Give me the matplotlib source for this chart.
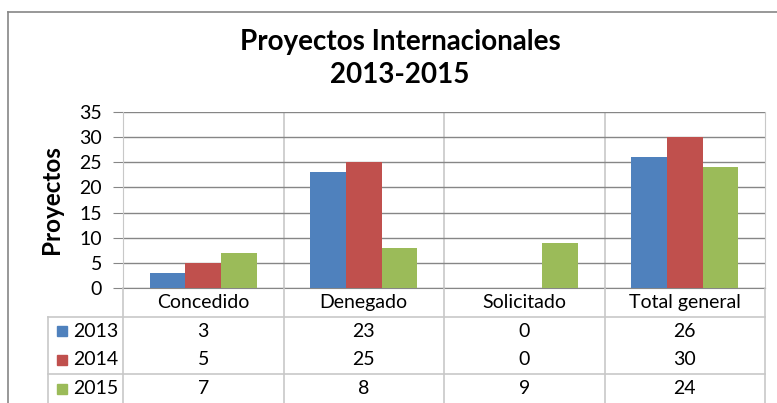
import matplotlib
matplotlib.use("Agg")
import numpy as np
import matplotlib.pyplot as plt
from matplotlib.patches import Rectangle
from matplotlib.lines import Line2D

plt.rcParams["font.family"] = ["Lato", "DejaVu Sans"]

# ---------------------------------------------------------
# Data
# ---------------------------------------------------------
categories = ["Concedido", "Denegado", "Solicitado", "Total general"]
years = ["2013", "2014", "2015"]
v2013 = [3, 23, 0, 26]
v2014 = [5, 25, 0, 30]
v2015 = [7, 8, 9, 24]
series = [v2013, v2014, v2015]
colors = ["#4F81BD", "#C0504D", "#9BBB59"]

GRID = "#868686"
SEP = "#C8C8C8"
W, H = 777, 403
FS = 14


def fx(px):
    return px / W


def fy(py):
    return 1 - py / H


fig = plt.figure(figsize=(W / 100, H / 100), dpi=100)

# outer chart border
fig.add_artist(Line2D([fx(8), fx(8)], [fy(12), 0], color=GRID, lw=1.2))
fig.add_artist(Line2D([fx(8), 1], [fy(12), fy(12)], color=GRID, lw=1.2))

fig.text(fx(400), fy(42), "Proyectos Internacionales", ha="center", va="center",
         fontsize=20, fontweight="bold")
fig.text(fx(400), fy(75), "2013-2015", ha="center", va="center",
         fontsize=20, fontweight="bold")

# ---------------------------------------------------------
# Bars
# ---------------------------------------------------------
ax = fig.add_axes([fx(123), fy(288), (765 - 123) / W, (288 - 112) / H])
x = np.arange(len(categories))
bw = 1 / 4.5
for j, (vals, c) in enumerate(zip(series, colors)):
    ax.bar(x + (j - 1) * bw, vals, width=bw, color=c, zorder=3)

ax.set_xlim(-0.5, 3.5)
ax.set_ylim(0, 35)
ax.set_yticks(range(0, 36, 5))
ax.yaxis.grid(True, color=GRID, lw=1.0, zorder=0)
ax.set_xticks([])
for xs in [0.5, 1.5, 2.5]:
    ax.axvline(xs, color=SEP, lw=1.2, zorder=1)
ax.spines["top"].set_visible(False)
ax.spines["right"].set_color(SEP)
ax.spines["left"].set_color(SEP)
ax.spines["bottom"].set_color(GRID)
ax.tick_params(axis="y", length=7, color=GRID, labelsize=FS, pad=8)
ax.set_ylabel("Proyectos", fontsize=17.5, fontweight="bold", labelpad=12)

# ---------------------------------------------------------
# Data table
# ---------------------------------------------------------
left_px = 48
tx0 = -0.5 - (123 - left_px) / ((765 - 123) / 4)
tab = fig.add_axes([fx(left_px), 0, (765 - left_px) / W, (403 - 288) / H])
tab.set_xlim(tx0, 3.5)
tab.set_ylim(4, 0)
tab.axis("off")

for xs in [-0.5, 0.5, 1.5, 2.5, 3.5]:
    tab.plot([xs, xs], [0, 4], color=SEP, lw=1.2, clip_on=False)
tab.plot([tx0, tx0], [1, 4], color=SEP, lw=1.2, clip_on=False)
for ys in [1, 3]:
    tab.plot([tx0, 3.5], [ys, ys], color=SEP, lw=1.2, clip_on=False)

for i, cat in enumerate(categories):
    tab.text(i, 0.5, cat, ha="center", va="center", fontsize=FS)

for r, (yr, vals, c) in enumerate(zip(years, series, colors)):
    yc = r + 1.5
    tab.add_patch(Rectangle((tx0 + 0.055, yc - 0.17), 0.065, 0.34,
                            color=c, clip_on=False))
    tab.text(tx0 + 0.155, yc, yr, ha="left", va="center", fontsize=FS)
    for i, v in enumerate(vals):
        tab.text(i, yc, str(v), ha="center", va="center", fontsize=FS)

fig.savefig("out.png", dpi=100)
